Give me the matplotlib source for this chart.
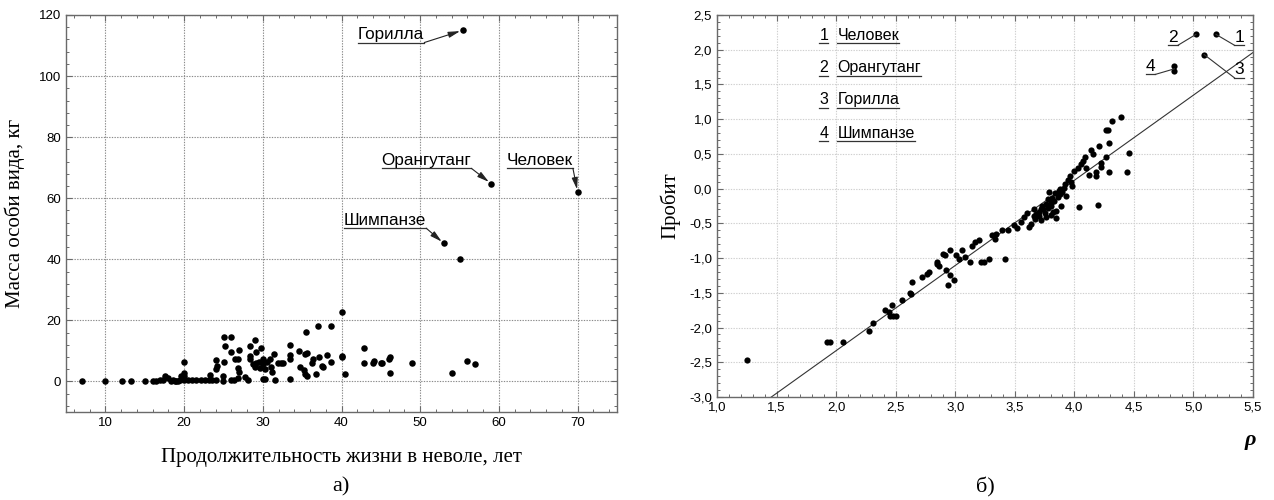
import numpy as np
import matplotlib
matplotlib.use('Agg')
import matplotlib.pyplot as plt
from matplotlib.ticker import MultipleLocator, FuncFormatter

# ---------------- Panel a) data ----------------
life_years = [7.0, 10.0, 12.1, 13.3, 15.0, 16.0, 16.4, 16.9, 17.6, 17.3,
              18.0, 18.3, 18.6, 18.9, 19.2, 19.5, 19.0, 20.0, 20.0, 20.0,
              20.0, 19.6, 20.5, 21.0, 21.5, 22.1, 22.6, 23.3, 23.2, 23.6,
              24.0, 24.0, 24.0, 24.2, 24.9, 24.9, 25.1, 26.0, 25.2, 25.1,
              26.0, 26.0, 26.4, 26.8, 26.5, 27.0, 26.9, 26.9, 27.0, 27.8,
              28.1, 28.4, 28.4, 28.4, 29.0, 29.1, 28.7, 29.0, 29.1, 29.5,
              29.6, 29.8, 30.0, 30.3, 30.0, 30.0, 30.3, 30.5, 30.9, 31.1,
              31.2, 31.4, 31.5, 31.9, 32.3, 32.6, 33.5, 33.5, 33.5, 33.4,
              34.6, 34.7, 35.4, 35.6, 35.2, 35.4, 35.6, 35.5, 36.3, 36.4,
              36.8, 37.0, 37.1, 37.5, 37.6, 38.1, 38.7, 38.7, 40.1, 40.0,
              40.1, 40.5, 42.9, 42.9, 44.1, 44.0, 45.1, 45.0, 46.1, 46.0,
              46.1, 49.0, 54.0, 55.0, 56.0, 57.0]
mass_kg = [0.0, 0.2, 0.0, 0.0, 0.2, 0.0, 0.2, 0.4, 1.7, 0.6,
           1.0, 0.2, 0.6, 0.0, 0.2, 0.6, 0.0, 6.5, 2.8, 1.9,
           0.6, 1.9, 0.6, 0.6, 0.6, 0.6, 0.6, 2.2, 0.6, 0.6,
           4.1, 7.1, 0.6, 5.2, 1.9, 0.2, 14.7, 14.7, 11.5, 6.5,
           9.7, 0.6, 0.6, 1.0, 7.4, 10.4, 7.4, 4.3, 3.0, 1.4,
           0.6, 11.7, 8.4, 7.4, 13.6, 9.5, 5.7, 4.8, 6.0, 6.3,
           4.3, 11.0, 0.9, 0.9, 7.4, 5.7, 4.1, 6.3, 7.4, 4.6,
           3.2, 9.1, 0.6, 5.9, 5.9, 5.9, 11.9, 8.6, 7.4, 0.9,
           10.1, 4.6, 9.0, 9.3, 3.6, 2.5, 1.9, 16.2, 6.1, 7.4,
           2.5, 18.0, 7.9, 5.2, 4.6, 8.6, 18.2, 6.5, 7.9, 8.4,
           22.8, 2.3, 10.8, 5.9, 6.8, 5.9, 5.9, 6.1, 7.9, 7.2,
           2.7, 5.9, 2.7, 40.0, 6.8, 5.7]

species_names = ['Горилла', 'Орангутанг', 'Человек', 'Шимпанзе']
species_life = [55.4, 59.0, 70.0, 53.0]
species_mass = [115.0, 64.8, 62.0, 45.2]
# label anchor (left edge, vertical centre) in data coords
species_label_x = [42.1, 45.1, 61.0, 40.3]
species_label_y = [113.6, 72.4, 72.4, 52.8]

# ---------------- Panel б) data ----------------
rho = [1.25, 1.92, 1.95, 2.06, 2.28, 2.31, 2.41, 2.44, 2.45, 2.48,
       2.50, 2.47, 2.55, 2.62, 2.63, 2.64, 2.72, 2.76, 2.78, 2.85,
       2.85, 2.86, 2.90, 2.91, 2.92, 2.94, 2.96, 2.99, 2.96, 3.01,
       3.03, 3.06, 3.08, 3.12, 3.22, 3.24, 3.28, 3.42,
       3.14, 3.17, 3.20, 3.31, 3.33, 3.34, 3.39, 3.44, 3.49, 3.52,
       3.58, 3.62, 3.64, 3.66, 3.67, 3.68, 3.70, 3.73, 3.74, 3.76,
       3.76, 3.78, 3.80, 3.81, 3.82, 3.85, 3.84, 3.87, 3.88, 3.89,
       3.91, 3.92, 3.95, 3.96, 3.98, 4.00, 4.03, 4.04,
       3.70, 3.72, 3.75, 3.78, 3.80, 3.83, 3.79, 3.86, 3.72, 3.66,
       3.60, 3.55, 3.85, 3.90, 3.93, 3.97, 3.88, 3.80,
       4.395, 4.32, 4.28, 4.27, 4.29, 4.21, 4.14, 4.16, 4.456, 4.27,
       4.22, 4.22, 4.09, 4.07, 4.18, 4.18, 4.29, 4.44, 4.20, 4.06,
       4.10, 4.12,
       5.19, 5.02, 5.09, 4.84, 4.84]
probit = [-2.47, -2.21, -2.21, -2.21, -2.05, -1.93, -1.75, -1.77, -1.83, -1.83,
          -1.83, -1.67, -1.61, -1.50, -1.51, -1.35, -1.27, -1.23, -1.20, -1.05,
          -1.08, -1.11, -0.94, -0.96, -1.17, -1.39, -1.24, -1.31, -0.88, -0.95,
          -1.01, -0.88, -0.99, -1.05, -1.05, -1.05, -1.02, -1.02,
          -0.82, -0.77, -0.74, -0.67, -0.72, -0.65, -0.60, -0.60, -0.53, -0.57,
          -0.41, -0.55, -0.51, -0.39, -0.44, -0.36, -0.34, -0.25, -0.29, -0.22,
          -0.41, -0.15, -0.20, -0.13, -0.34, -0.32, -0.06, -0.03, -0.08, -0.25,
          0.01, 0.06, 0.13, 0.18, 0.04, 0.25, 0.30, -0.26,
          -0.40, -0.30, -0.35, -0.28, -0.38, -0.18, -0.05, -0.12, -0.45, -0.30,
          -0.35, -0.48, -0.42, -0.05, -0.10, 0.10, 0.00, -0.25,
          1.03, 0.98, 0.85, 0.84, 0.65, 0.62, 0.56, 0.50, 0.51, 0.46,
          0.37, 0.31, 0.46, 0.40, 0.24, 0.18, 0.24, 0.24, -0.24, 0.35,
          0.30, 0.20,
          2.22, 2.22, 1.93, 1.76, 1.69]

fit_slope = 1.2265
fit_intercept = -4.786

legend_numbers = ['1', '2', '3', '4']
legend_names = ['Человек', 'Орангутанг', 'Горилла', 'Шимпанзе']
# numbered point labels: point, label centre
num_point_rho = [5.19, 5.02, 5.09, 4.84]
num_point_p = [2.22, 2.22, 1.93, 1.725]
num_label_rho = [5.385, 4.83, 5.385, 4.64]
num_label_p = [2.18, 2.18, 1.71, 1.76]

SANS = ['Liberation Sans', 'DejaVu Sans']
SERIF = ['Liberation Serif', 'DejaVu Serif']

fig = plt.figure(figsize=(12.74, 5.0), dpi=100)
axA = fig.add_axes([66/1274, 1-412/500, (617-66)/1274, (412-15)/500])
axB = fig.add_axes([717/1274, 1-397/500, (1253-717)/1274, (397-15)/500])

def style_axes(ax, gridcolor):
    for s in ax.spines.values():
        s.set_color('#6a6a6a')
        s.set_linewidth(1.0)
    ax.tick_params(which='both', direction='in', top=True, right=True,
                   colors='#6a6a6a', labelcolor='black', labelsize=9.5)
    ax.tick_params(which='major', length=4, width=0.8)
    ax.tick_params(which='minor', length=2.5, width=0.7)
    ax.grid(True, which='major', linestyle=(0, (1.2, 1.2)), color=gridcolor, linewidth=0.8)
    ax.set_axisbelow(True)
    for lab in ax.get_xticklabels() + ax.get_yticklabels():
        lab.set_family(SANS)

# ---- Panel a ----
axA.scatter(life_years, mass_kg, s=22, color='black', zorder=3, linewidths=0)
axA.scatter(species_life, species_mass, s=22, color='black', zorder=3, linewidths=0)
axA.set_xlim(5, 75)
axA.set_ylim(-10, 120)
axA.xaxis.set_major_locator(MultipleLocator(10))
axA.xaxis.set_minor_locator(MultipleLocator(2))
axA.yaxis.set_major_locator(MultipleLocator(20))
axA.yaxis.set_minor_locator(MultipleLocator(4))
axA.set_xticks([10, 20, 30, 40, 50, 60, 70])
axA.set_yticks([0, 20, 40, 60, 80, 100, 120])
style_axes(axA, '#8a8a8a')
axA.set_xlabel('Продолжительность жизни в неволе, лет', family=SERIF, fontsize=15, labelpad=14)
axA.set_ylabel('Масса особи вида, кг', family=SERIF, fontsize=15, labelpad=10)

texts_a = []
for name, lx, ly in zip(species_names, species_label_x, species_label_y):
    t = axA.text(lx, ly, name, family=SANS, fontsize=12.3, ha='left', va='center', zorder=4)
    texts_a.append(t)

# ---- Panel b ----
axB.scatter(rho, probit, s=20, color='black', zorder=3, linewidths=0)
xx = np.linspace(1.0, 5.5, 50)
axB.plot(xx, fit_intercept + fit_slope * xx, color='#333333', lw=0.8, zorder=2)
axB.set_xlim(1.0, 5.5)
axB.set_ylim(-3.0, 2.5)
axB.xaxis.set_major_locator(MultipleLocator(0.5))
axB.xaxis.set_minor_locator(MultipleLocator(0.1))
axB.yaxis.set_major_locator(MultipleLocator(0.5))
axB.yaxis.set_minor_locator(MultipleLocator(0.1))
comma = FuncFormatter(lambda v, p: ('%.1f' % v).replace('.', ','))
axB.xaxis.set_major_formatter(comma)
axB.yaxis.set_major_formatter(comma)
style_axes(axB, '#cfcfcf')
axB.set_ylabel('Пробит', family=SERIF, fontsize=15, labelpad=6)

legend_rows_p = [2.21, 1.74, 1.28, 0.80]
leg_texts = []
for num, name, yp in zip(legend_numbers, legend_names, legend_rows_p):
    t1 = axB.text(1.86, yp, num, family=SANS, fontsize=11.5, ha='left', va='center')
    t2 = axB.text(2.01, yp, name, family=SANS, fontsize=11.5, ha='left', va='center')
    leg_texts += [t1, t2]

num_texts = []
for num, lx, ly in zip(legend_numbers, num_label_rho, num_label_p):
    t = axB.text(lx, ly, num, family=SANS, fontsize=12.5, ha='center', va='center')
    num_texts.append(t)

fig.text(341/1274, 1-487/500, 'а)', family=SERIF, fontsize=16, ha='center', va='center')
fig.text(985/1274, 1-487/500, 'б)', family=SERIF, fontsize=16, ha='center', va='center')
fig.text(1250/1274, 1-440/500, 'ρ', family=SERIF, fontsize=16, fontweight='bold',
         style='italic', ha='center', va='center')

# underlines computed from rendered text extents
fig.canvas.draw()
renderer = fig.canvas.get_renderer()

def underline(ax, t, pad_px=1.5, color='#333333'):
    bb = t.get_window_extent(renderer)
    inv = ax.transData.inverted()
    (x0, y0) = inv.transform((bb.x0, bb.y0 + 1 - pad_px))
    (x1, _) = inv.transform((bb.x1, bb.y0))
    ax.plot([x0, x1], [y0, y0], color=color, lw=0.9, clip_on=False, zorder=4)
    return x0, x1, y0

for t, px, py in zip(texts_a, species_life, species_mass):
    x0, x1, y0 = underline(axA, t)
    axA.annotate('', xy=(px, py), xytext=(x1, y0),
                 arrowprops=dict(arrowstyle='-|>,head_length=0.7,head_width=0.18',
                                 color='#222222', lw=0.8, shrinkA=0, shrinkB=2),
                 zorder=4)

for t in leg_texts:
    underline(axB, t)

for i, t in enumerate(num_texts):
    x0, x1, y0 = underline(axB, t)
    px, py = num_point_rho[i], num_point_p[i]
    sx = x1 if num_label_rho[i] < px else x0
    axB.plot([sx, px], [y0, py], color='#333333', lw=0.8, zorder=4)

fig.savefig('out.png', dpi=100)
